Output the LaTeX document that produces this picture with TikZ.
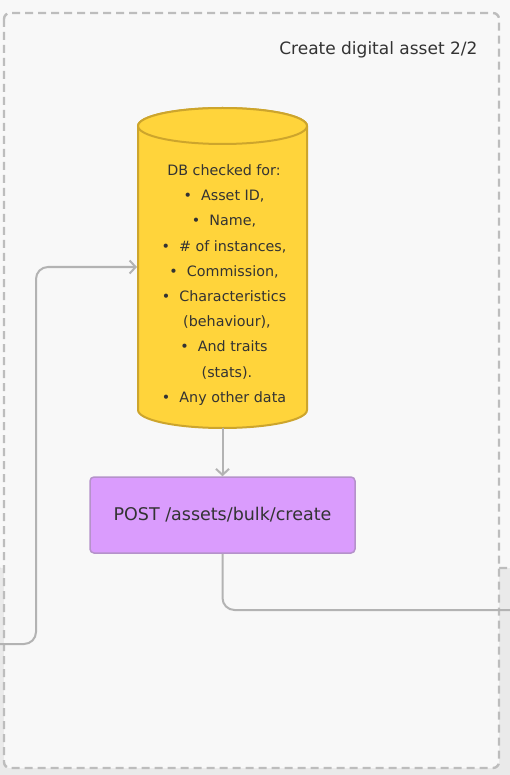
\documentclass[tikz,border=0pt]{standalone}
\usepackage{fontspec}
\setmainfont{DejaVu Sans}
\usetikzlibrary{arrows.meta}
\definecolor{canvasbg}{HTML}{F8F8F8}
\definecolor{framebg}{HTML}{EAEAEA}
\definecolor{dashgray}{HTML}{BDBDBD}
\definecolor{linkgray}{HTML}{B3B3B3}
\definecolor{dbfill}{HTML}{FFD43B}
\definecolor{dbedge}{HTML}{CDA52C}
\definecolor{postfill}{HTML}{DA9CFD}
\definecolor{postedge}{HTML}{B592CA}
\definecolor{ink}{HTML}{333333}
\tikzset{
  frameline/.style={draw=dashgray, line width=2.4pt, dash pattern=on 8pt off 5pt},
  link/.style={draw=linkgray, line width=2pt, rounded corners=12pt},
  tip/.style={-{Straight Barb[length=6pt,width=13pt]}},
  postbox/.style={draw=postedge, fill=postfill, line width=1.5pt, rounded corners=4pt,
    minimum width=265pt, minimum height=76pt, text=ink, font=\fontsize{17.5}{22}\selectfont},
  dbtext/.style={align=center, text=ink, font=\fontsize{14.3}{25.2}\selectfont},
  title/.style={anchor=east, text=ink, font=\fontsize{17}{20}\selectfont}
}
\begin{document}
\begin{tikzpicture}[x=1pt,y=-1pt]
\useasboundingbox (0,0) rectangle (510,775);
\fill[canvasbg] (0,0) rectangle (510,775);
% frame behind
\path[frameline, fill=framebg, rounded corners=6pt] (-30,568) rectangle (540,800);
% main container
\path[frameline, fill=canvasbg, rounded corners=6pt] (4,13) rectangle (499,768);
\node[title] (ttl) at (481,50) {Create digital asset 2/2};
% database cylinder
\path[draw=dbedge, fill=dbfill, line width=2pt]
  (138,126) -- (138,410) arc[start angle=180, end angle=360, x radius=84.5pt, y radius=18pt]
  -- (307,126) arc[start angle=0, end angle=180, x radius=84.5pt, y radius=18pt] -- cycle;
\path[draw=dbedge, fill=dbfill, line width=2pt]
  (222.5,126) ellipse[x radius=84.5pt, y radius=18pt];
\node[minimum width=169pt, minimum height=320pt, inner sep=0pt] (db) at (222.5,268) {};
\node[dbtext] (dbtxt) at (224,285) {DB checked for:\\
  \textbullet\ \ Asset ID,\\
  \textbullet\ \ Name,\\
  \textbullet\ \ \# of instances,\\
  \textbullet\ \ Commission,\\
  \textbullet\ \ Characteristics\\
  \hspace{6pt}(behaviour),\\
  \textbullet\ \ And traits\\
  \hspace{6pt}(stats).\\
  \textbullet\ \ Any other data};
\node[postbox] (post) at (222.5,515) {POST /assets/bulk/create};
\coordinate (inL) at (-2,644);
\coordinate (dbin) at (137,267);
\coordinate (outR) at (512,610);
\draw[link, tip] (inL) -- (36,644) -- (36,267) -- (dbin);
\draw[link, tip, rounded corners=0pt] (db.south) -- (post.north);
\draw[link] (post.south) -- (222.5,610) -- (outR);
\end{tikzpicture}
\end{document}
